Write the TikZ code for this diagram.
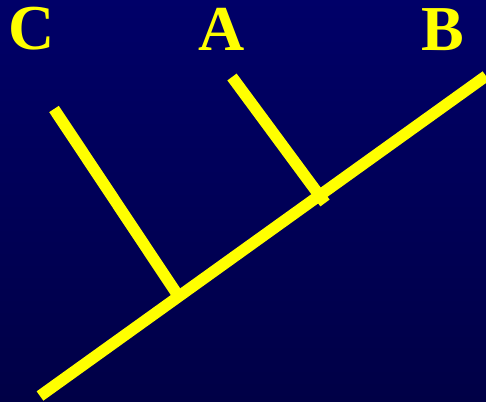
\documentclass[tikz,border=0pt]{standalone}
\usepackage{fontspec}
\setmainfont{Liberation Serif}
\usepackage{xcolor}
\definecolor{bgtop}{RGB}{0, 0, 104}
\definecolor{bgbottom}{RGB}{0, 0, 70}
\definecolor{treeyellow}{RGB}{255, 255, 0}
\usepackage{tikz}
\usetikzlibrary{positioning}

\tikzset{
  branch/.style={treeyellow, line width=11.5pt, line cap=butt},
  taxon/.style={treeyellow, font=\fontsize{64}{64}\selectfont\bfseries, anchor=base, inner sep=0pt}
}

\begin{document}
\begin{tikzpicture}[x=1pt, y=-1pt]
      % Background
      \useasboundingbox (0,0) rectangle (486,401);
      \shade[top color=bgtop, bottom color=bgbottom] (0,0) rectangle (486,401);
      \clip (0,0) rectangle (486,401);
      % Tree points
      \coordinate (root) at (40,396);
      \coordinate (tipB) at (486,76);
      \coordinate (tipC) at (54,109);
      \coordinate (joinC) at (177,294);
      \coordinate (tipA) at (232,77);
      \coordinate (joinA) at (325,203);
      % Branches
      \draw[branch] (root) -- (tipB);
      \draw[branch] (tipC) -- (joinC);
      \draw[branch] (tipA) -- (joinA);
      % Labels
      \node[taxon] (labC) at (32,50) {C};
      \node[taxon] (labA) at (222,51) {A};
      \node[taxon] (labB) at (443,51) {B};
    \end{tikzpicture}
\end{document}
